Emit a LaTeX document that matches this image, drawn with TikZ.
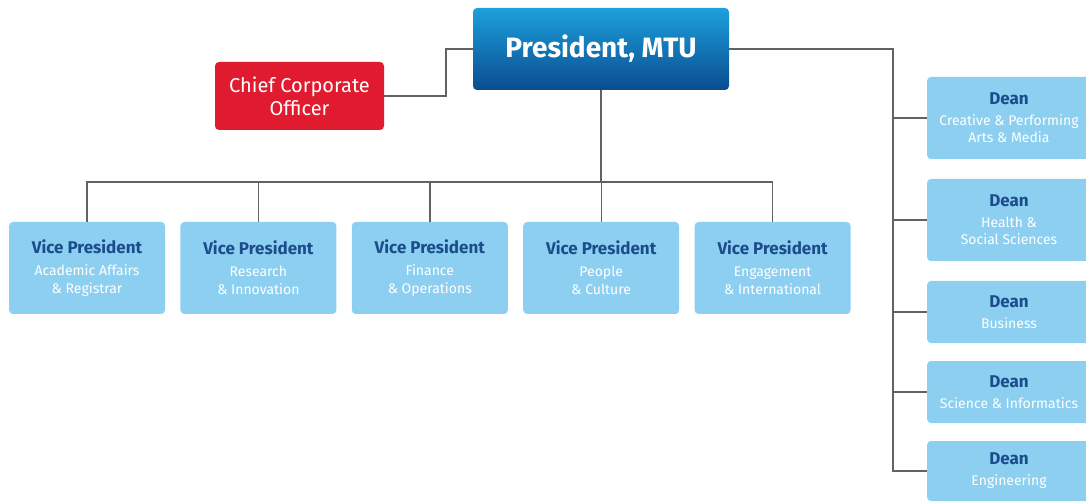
\documentclass[tikz,border=0pt]{standalone}
\usepackage{fontspec}
\setmainfont{Fira Sans}
\usetikzlibrary{positioning}

\definecolor{presTop}{HTML}{1CA0DC}
\definecolor{presBot}{HTML}{0A4C90}
\definecolor{ccoRed}{HTML}{E11B2F}
\definecolor{boxBlue}{HTML}{8CCFF0}
\definecolor{titleNavy}{HTML}{1B4C8C}
\definecolor{lineGray}{HTML}{626262}

\begin{document}
\begin{tikzpicture}[
  x=1pt, y=-1pt,
  pres/.style={rounded corners=4pt, top color=presTop, bottom color=presBot, text=white,
    minimum width=256pt, minimum height=82pt, font=\fontsize{28}{32}\selectfont\bfseries},
  cco/.style={rounded corners=4pt, fill=ccoRed, text=white, align=center,
    minimum width=169pt, minimum height=68pt, font=\fontsize{20}{23}\selectfont},
  vp/.style={rounded corners=4pt, fill=boxBlue, text=white, align=center,
    minimum width=156pt, minimum height=92pt, font=\fontsize{14}{18}\selectfont},
  dean/.style={rounded corners=4pt, fill=boxBlue, text=white, align=center,
    minimum width=164pt, font=\fontsize{14}{17}\selectfont},
  link/.style={draw=lineGray, line width=1.4pt}
]
\useasboundingbox (0,0) rectangle (1086,502);
\clip (0,0) rectangle (1086,502);

% top level
\node[pres] (pres) at (601,49) {President, MTU};
\node[cco] (cco) at (299.5,96) {Chief Corporate\\Officer};

% vice presidents
\node[vp] (vpAcad) at (87,268) {\textcolor{titleNavy}{\fontsize{17}{20}\selectfont\bfseries Vice President}\\[4pt]Academic Affairs\\\& Registrar};
\node[vp, right=15pt of vpAcad] (vpRes) {\textcolor{titleNavy}{\fontsize{17}{20}\selectfont\bfseries Vice President}\\[4pt]Research\\\& Innovation};
\node[vp, right=15pt of vpRes] (vpFin) {\textcolor{titleNavy}{\fontsize{17}{20}\selectfont\bfseries Vice President}\\[4pt]Finance\\\& Operations};
\node[vp, right=15pt of vpFin] (vpPeople) {\textcolor{titleNavy}{\fontsize{17}{20}\selectfont\bfseries Vice President}\\[4pt]People\\\& Culture};
\node[vp, right=15pt of vpPeople] (vpEng) {\textcolor{titleNavy}{\fontsize{17}{20}\selectfont\bfseries Vice President}\\[4pt]Engagement\\\& International};

% deans
\node[dean, minimum height=82pt] (dnArts) at (1009,118) {\textcolor{titleNavy}{\fontsize{17}{20}\selectfont\bfseries Dean}\\[4pt]Creative \& Performing\\Arts \& Media};
\node[dean, minimum height=82pt] (dnHealth) at (1009,220) {\textcolor{titleNavy}{\fontsize{17}{20}\selectfont\bfseries Dean}\\[4pt]Health \&\\Social Sciences};
\node[dean, minimum height=62pt] (dnBus) at (1009,312) {\textcolor{titleNavy}{\fontsize{17}{20}\selectfont\bfseries Dean}\\[4pt]Business};
\node[dean, minimum height=62pt] (dnSci) at (1009,392) {\textcolor{titleNavy}{\fontsize{17}{20}\selectfont\bfseries Dean}\\[4pt]Science \& Informatics};
\node[dean, minimum height=60pt] (dnEng) at (1009,471) {\textcolor{titleNavy}{\fontsize{17}{20}\selectfont\bfseries Dean}\\[4pt]Engineering};

\coordinate (ccoKnee) at (446,49);
\coordinate (vpBus) at (601,182);
\coordinate (deanRail) at (893,49);

% connectors
\draw[link] (pres.west) -- (ccoKnee) |- (cco.east);
\draw[link] (pres.south) -- (vpBus);
\draw[link] (vpAcad.north) |- (vpBus) -| (vpEng.north);
\foreach \v in {vpRes,vpFin,vpPeople}
  \draw[link] (\v.north) -- (\v.north |- vpBus);
\draw[link] (pres.east) -- (deanRail) |- (dnEng.west);
\foreach \d in {dnArts,dnHealth,dnBus,dnSci}
  \draw[link] (deanRail |- \d.west) -- (\d.west);

\end{tikzpicture}
\end{document}
